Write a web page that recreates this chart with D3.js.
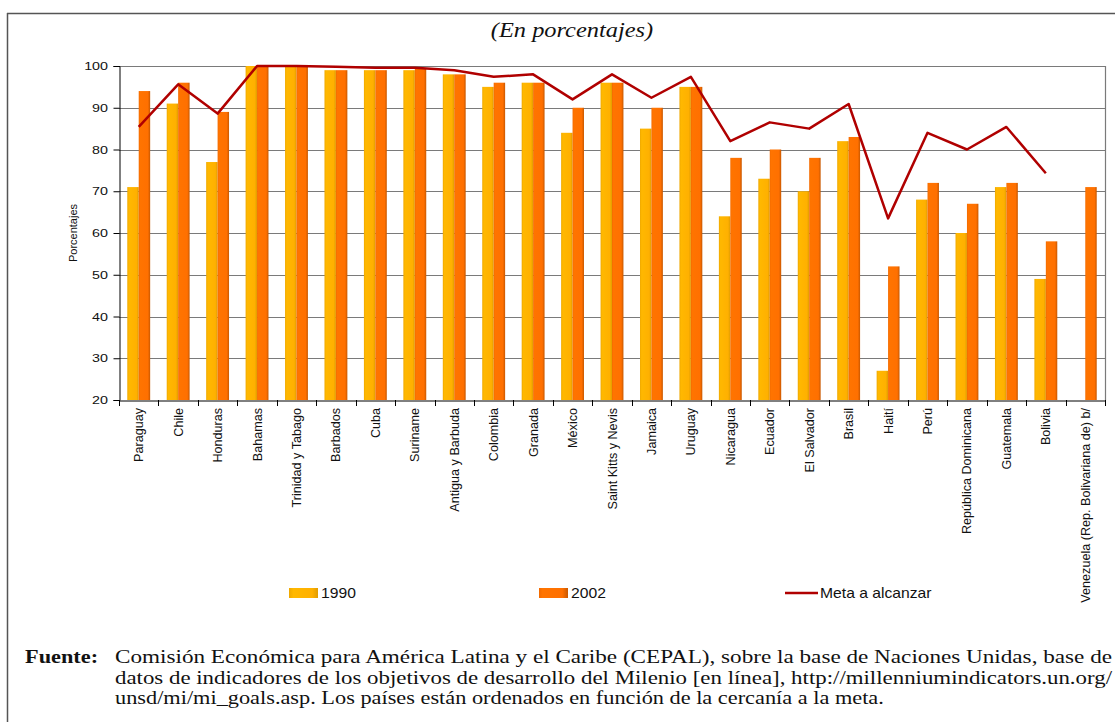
<!DOCTYPE html>
<html><head><meta charset="utf-8">
<script src="https://cdn.jsdelivr.net/npm/d3@7"></script>
<style>body{margin:0;background:#fff}svg{display:block}</style>
</head><body>
<svg id="c" width="1115" height="722"></svg>
<script>
const categories = ["Paraguay","Chile","Honduras","Bahamas","Trinidad y Tabago","Barbados","Cuba","Suriname","Antigua y Barbuda","Colombia","Granada","México","Saint Kitts y Nevis","Jamaica","Uruguay","Nicaragua","Ecuador","El Salvador","Brasil","Haití","Perú","República Dominicana","Guatemala","Bolivia","Venezuela (Rep. Bolivariana de) b/"];
const values1990 = [71,91,77,100,100,99,99,99,98,95,96,84,96,85,95,64,73,70,82,27,68,60,71,49,null];
const values2002 = [94,96,89,100,100,99,99,99.5,98,96,96,90,96,90,95,78,80,78,83,52,72,67,72,58,71];
const meta = [85.4,95.6,88.6,100,100,99.8,99.6,99.6,99,97.4,98,92,98,92.4,97.4,82,86.5,85,90.9,63.5,84,80,85.4,74.3,null];
const yTicks = [20,30,40,50,60,70,80,90,100];
const seriesNames = ["1990","2002"];
const legendLabels = ["1990","2002","Meta a alcanzar"];
const title = "(En porcentajes)";
const yLabel = "Porcentajes";
const footerLabel = "Fuente:";
const footerLines = [
 "Comisión Económica para América Latina y el Caribe (CEPAL), sobre la base de Naciones Unidas, base de",
 "datos de indicadores de los objetivos de desarrollo del Milenio [en línea], http://millenniumindicators.un.org/",
 "unsd/mi/mi_goals.asp. Los países están ordenados en función de la cercanía a la meta."
];

const svg = d3.select("#c");
const L = 119, R = 1105, T = 66, B = 400;
const x = d3.scaleBand().domain(categories).range([L, R]).padding(0);
const y = d3.scaleLinear().domain([20,100]).range([B, T]);
const bw = x.bandwidth();
const x1 = d3.scaleBand().domain(seriesNames).range([bw*0.21, bw*0.79]).padding(0);

const defs = svg.append("defs");
function grad(id, stops){
  const g = defs.append("linearGradient").attr("id",id).attr("x1","0").attr("x2","1").attr("y1","0").attr("y2","0");
  stops.forEach(s=>g.append("stop").attr("offset",s[0]).attr("stop-color",s[1]));
}
grad("g1990", [[0,"#EFA800"],[0.15,"#FFB800"],[0.8,"#FFB000"],[1,"#E09C00"]]);
grad("g2002", [[0,"#F26A00"],[0.12,"#FF7400"],[0.8,"#FF7000"],[1,"#C85800"]]);

// outer frame
svg.append("line").attr("x1",7).attr("x2",1115).attr("y1",13.5).attr("y2",13.5).attr("stroke","#555").attr("stroke-width",1.5);
svg.append("line").attr("x1",7.5).attr("x2",7.5).attr("y1",13).attr("y2",722).attr("stroke","#555").attr("stroke-width",1.5);

// title
svg.append("text").attr("transform","translate(572,37) scale(1.22,1)").attr("text-anchor","middle")
  .attr("font-family","Liberation Serif, serif").attr("font-style","italic").attr("font-size",20).attr("fill","#111").text(title);

// gridlines
svg.append("g").selectAll("line").data(yTicks.filter(d=>d>20)).join("line")
  .attr("x1",L).attr("x2",R).attr("y1",d=>Math.round(y(d))+0.5).attr("y2",d=>Math.round(y(d))+0.5)
  .attr("stroke","#7a7a7a").attr("stroke-width",1.2);
svg.append("line").attr("x1",R+0.5).attr("x2",R+0.5).attr("y1",T).attr("y2",B).attr("stroke","#7a7a7a").attr("stroke-width",1.2);

// bars
const g = svg.append("g");
categories.forEach((c,i)=>{
  [values1990[i], values2002[i]].forEach((v,j)=>{
    if(v==null) return;
    g.append("rect").attr("x", x(c)+x1(seriesNames[j])).attr("width", x1.bandwidth())
      .attr("y", y(v)).attr("height", B - y(v))
      .attr("fill", j===0 ? "url(#g1990)" : "url(#g2002)");
  });
});

// y axis
const yAxis = d3.axisLeft(y).tickValues(yTicks).tickSize(6).tickFormat("");
const ya = svg.append("g").attr("transform",`translate(${L+0.5},0)`).call(yAxis);
ya.select(".domain").attr("stroke","#000");
ya.selectAll(".tick line").attr("stroke","#000");
svg.append("g").selectAll("text").data(yTicks).join("text")
  .attr("transform",d=>`translate(108,${y(d)+4}) scale(1.3,1)`).attr("text-anchor","end")
  .attr("font-family","Liberation Sans, Arial, sans-serif").attr("font-size",11).attr("fill","#111")
  .text(d=>d);

// x axis
const xAxis = d3.axisBottom(x).tickSize(0).tickFormat("");
const xa = svg.append("g").attr("transform",`translate(0,${B+0.5})`).call(xAxis);
xa.select(".domain").attr("stroke","#000");
svg.append("g").selectAll("line").data(categories.concat([null])).join("line")
  .attr("x1",(d,i)=>Math.round(L+i*bw)+0.5).attr("x2",(d,i)=>Math.round(L+i*bw)+0.5)
  .attr("y1",B).attr("y2",B+6).attr("stroke","#000");

svg.append("g").selectAll("text").data(categories).join("text")
  .attr("transform",d=>`translate(${x(d)+bw/2+4.5},${B+8}) rotate(-90)`)
  .attr("text-anchor","end")
  .attr("font-family","Liberation Sans, Arial, sans-serif").attr("font-size",12.6).attr("fill","#111")
  .text(d=>d);

// y label
svg.append("text").attr("transform",`translate(77,233) rotate(-90)`).attr("text-anchor","middle")
  .attr("font-family","Liberation Sans Narrow, Liberation Sans, Arial, sans-serif").attr("font-size",11).attr("fill","#111").text(yLabel);

// meta line
const line = d3.line().defined(d=>d!=null).x((d,i)=>x(categories[i])+bw/2).y(d=>y(d));
svg.append("path").datum(meta).attr("d",line).attr("fill","none").attr("stroke","#B00000").attr("stroke-width",2.5).attr("stroke-linejoin","round");

// legend
const lg = svg.append("g").attr("font-family","Liberation Sans, Arial, sans-serif").attr("font-size",14).attr("fill","#111");
lg.append("rect").attr("x",289).attr("y",588).attr("width",29).attr("height",10).attr("fill","url(#g1990)");
lg.append("text").attr("transform","translate(321,598) scale(1.12,1)").text(legendLabels[0]);
lg.append("rect").attr("x",539).attr("y",588).attr("width",29).attr("height",10).attr("fill","url(#g2002)");
lg.append("text").attr("transform","translate(571,598) scale(1.12,1)").text(legendLabels[1]);
lg.append("line").attr("x1",785).attr("x2",818).attr("y1",593).attr("y2",593).attr("stroke","#B00000").attr("stroke-width",2.5);
lg.append("text").attr("transform","translate(820,598) scale(1.12,1)").text(legendLabels[2]);

// footer
const ff = svg.append("g").attr("font-family","Liberation Serif, Times New Roman, serif").attr("font-size",18).attr("fill","#111");
ff.append("text").attr("transform","translate(25,663) scale(1.24,1)").attr("font-weight","bold").text(footerLabel);
footerLines.forEach((t,i)=>{
  const tx = ff.append("text").attr("transform",`translate(115,${663+i*20.5}) scale(1.24,1)`).text(t);
  if(i<2) tx.attr("textLength",(1112-115)/1.24).attr("lengthAdjust","spacingAndGlyphs");
});
</script>
</body></html>
